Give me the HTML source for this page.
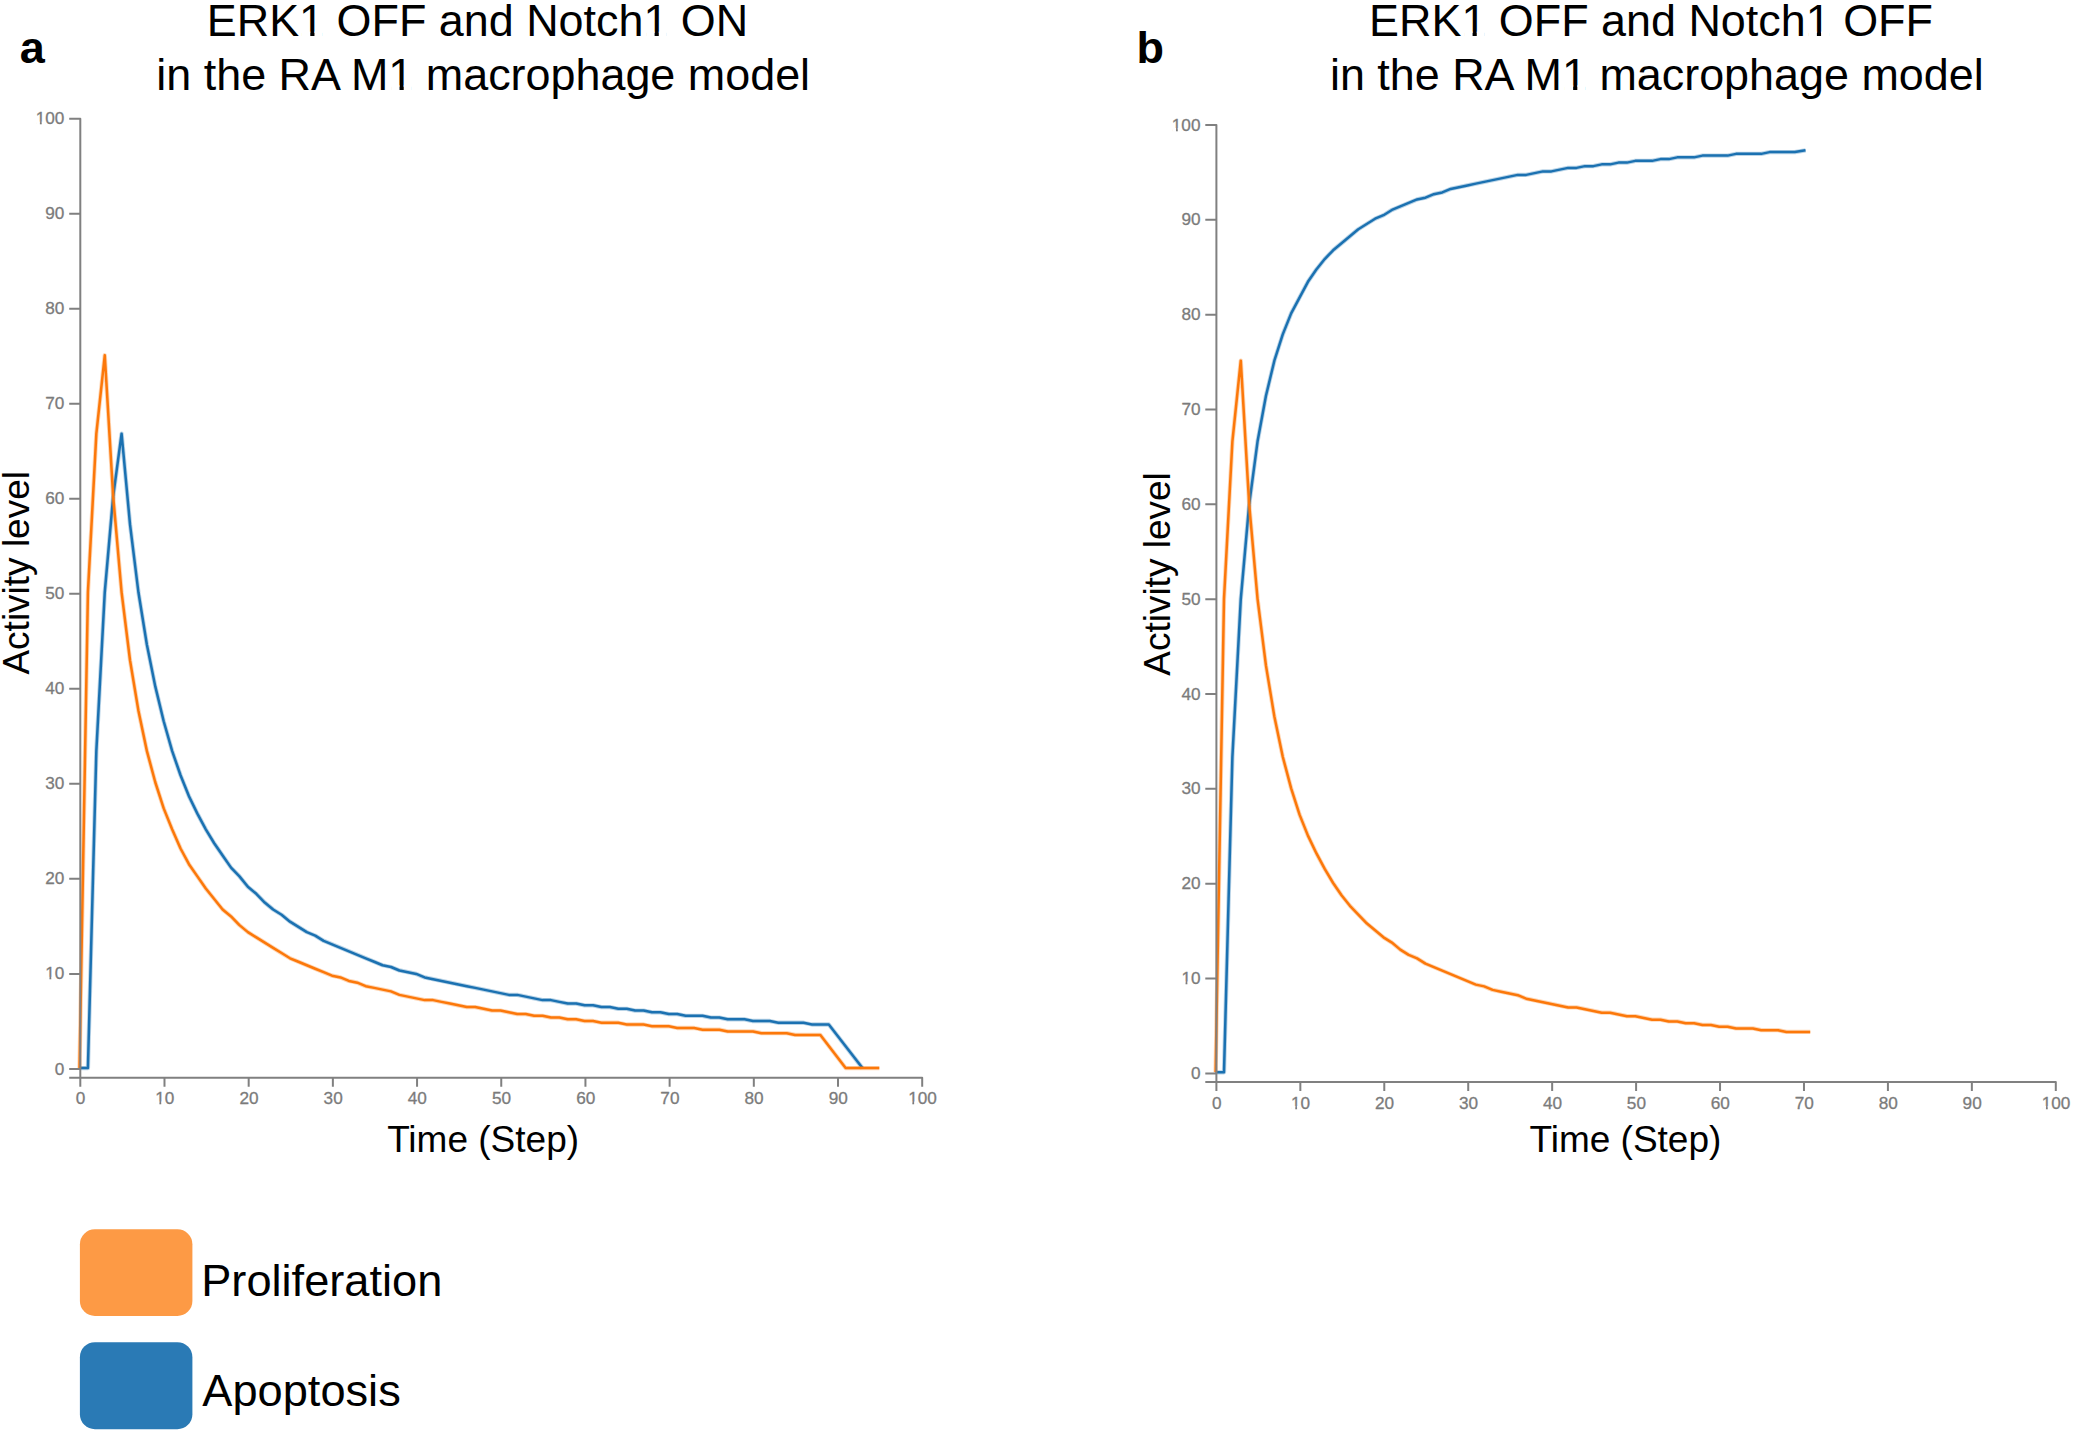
<!DOCTYPE html>
<html><head><meta charset="utf-8"><style>
html,body{margin:0;padding:0;background:#fff;}
body{width:2075px;height:1433px;overflow:hidden;}
svg{display:block;}
text{font-family:"Liberation Sans",Arial,sans-serif;}
.t{font-size:44.9px;fill:#000;}
.lab{font-size:45px;font-weight:bold;fill:#000;}
.axl{font-size:37.0px;fill:#000;}
.tk{font-size:17.2px;fill:#7b7b7b;stroke:#7b7b7b;stroke-width:0.3px;}
.leg{font-size:45.2px;fill:#000;}
.ax path{fill:none;stroke:#808080;stroke-width:2;stroke-linejoin:round;}
.ln{fill:none;stroke-width:2.5;stroke-linejoin:round;stroke-linecap:butt;}
.hl{fill:none;stroke-width:4.3;stroke-opacity:0.3;stroke-linejoin:round;stroke-linecap:butt;}
</style></head><body>
<svg width="2075" height="1433" viewBox="0 0 2075 1433">
<rect width="2075" height="1433" fill="#fff"/>
<text class="lab" x="19.8" y="63.4">a</text>
<text class="lab" x="1136.6" y="63.3">b</text>
<text class="t" x="477.5" y="36.3" text-anchor="middle">ERK1 OFF and Notch1 ON</text>
<text class="t" x="483.2" y="90" text-anchor="middle">in the RA M1 macrophage model</text>
<text class="t" x="1651" y="36.3" text-anchor="middle">ERK1 OFF and Notch1 OFF</text>
<text class="t" x="1656.8" y="90" text-anchor="middle">in the RA M1 macrophage model</text>

<g>
<path class="hl" stroke="#1b71b1" d="M79.50,1068.07L87.92,1068.07L96.34,750.88L104.76,592.29L113.18,496.43L121.59,433.69L130.01,524.32L138.43,592.29L146.85,644.57L155.27,686.40L163.69,721.26L172.11,750.88L180.53,775.28L188.95,796.20L197.37,813.62L205.79,829.31L214.20,843.25L222.62,855.45L231.04,867.65L239.46,876.36L247.88,886.82L256.30,893.79L264.72,902.51L273.14,909.48L281.56,914.71L289.98,921.68L298.39,926.91L306.81,932.13L315.23,935.62L323.65,940.85L332.07,944.33L340.49,947.82L348.91,951.31L357.33,954.79L365.75,958.28L374.17,961.76L382.58,965.25L391.00,966.99L399.42,970.48L407.84,972.22L416.26,973.96L424.68,977.45L433.10,979.19L441.52,980.93L449.94,982.68L458.36,984.42L466.77,986.16L475.19,987.90L483.61,989.65L492.03,991.39L500.45,993.13L508.87,994.88L517.29,994.88L525.71,996.62L534.13,998.36L542.55,1000.10L550.96,1000.10L559.38,1001.85L567.80,1003.59L576.22,1003.59L584.64,1005.33L593.06,1005.33L601.48,1007.07L609.90,1007.07L618.32,1008.82L626.74,1008.82L635.15,1010.56L643.57,1010.56L651.99,1012.30L660.41,1012.30L668.83,1014.05L677.25,1014.05L685.67,1015.79L694.09,1015.79L702.51,1015.79L710.93,1017.53L719.34,1017.53L727.76,1019.27L736.18,1019.27L744.60,1019.27L753.02,1021.02L761.44,1021.02L769.86,1021.02L778.28,1022.76L786.70,1022.76L795.12,1022.76L803.53,1022.76L811.95,1024.50L820.37,1024.50L828.79,1024.50L862.47,1068.07"/>
<path class="ln" stroke="#1b71b1" d="M79.50,1068.07L87.92,1068.07L96.34,750.88L104.76,592.29L113.18,496.43L121.59,433.69L130.01,524.32L138.43,592.29L146.85,644.57L155.27,686.40L163.69,721.26L172.11,750.88L180.53,775.28L188.95,796.20L197.37,813.62L205.79,829.31L214.20,843.25L222.62,855.45L231.04,867.65L239.46,876.36L247.88,886.82L256.30,893.79L264.72,902.51L273.14,909.48L281.56,914.71L289.98,921.68L298.39,926.91L306.81,932.13L315.23,935.62L323.65,940.85L332.07,944.33L340.49,947.82L348.91,951.31L357.33,954.79L365.75,958.28L374.17,961.76L382.58,965.25L391.00,966.99L399.42,970.48L407.84,972.22L416.26,973.96L424.68,977.45L433.10,979.19L441.52,980.93L449.94,982.68L458.36,984.42L466.77,986.16L475.19,987.90L483.61,989.65L492.03,991.39L500.45,993.13L508.87,994.88L517.29,994.88L525.71,996.62L534.13,998.36L542.55,1000.10L550.96,1000.10L559.38,1001.85L567.80,1003.59L576.22,1003.59L584.64,1005.33L593.06,1005.33L601.48,1007.07L609.90,1007.07L618.32,1008.82L626.74,1008.82L635.15,1010.56L643.57,1010.56L651.99,1012.30L660.41,1012.30L668.83,1014.05L677.25,1014.05L685.67,1015.79L694.09,1015.79L702.51,1015.79L710.93,1017.53L719.34,1017.53L727.76,1019.27L736.18,1019.27L744.60,1019.27L753.02,1021.02L761.44,1021.02L769.86,1021.02L778.28,1022.76L786.70,1022.76L795.12,1022.76L803.53,1022.76L811.95,1024.50L820.37,1024.50L828.79,1024.50L862.47,1068.07"/>
<path class="hl" stroke="#fc780a" d="M79.50,1068.07L87.92,592.29L96.34,433.69L104.76,355.27L113.18,496.43L121.59,592.29L130.01,660.26L138.43,710.80L146.85,750.88L155.27,782.25L163.69,808.40L172.11,829.31L180.53,848.48L188.95,864.17L197.37,876.36L205.79,888.56L214.20,899.02L222.62,909.48L231.04,916.45L239.46,925.16L247.88,932.13L256.30,937.36L264.72,942.59L273.14,947.82L281.56,953.05L289.98,958.28L298.39,961.76L306.81,965.25L315.23,968.73L323.65,972.22L332.07,975.70L340.49,977.45L348.91,980.93L357.33,982.68L365.75,986.16L374.17,987.90L382.58,989.65L391.00,991.39L399.42,994.88L407.84,996.62L416.26,998.36L424.68,1000.10L433.10,1000.10L441.52,1001.85L449.94,1003.59L458.36,1005.33L466.77,1007.07L475.19,1007.07L483.61,1008.82L492.03,1010.56L500.45,1010.56L508.87,1012.30L517.29,1014.05L525.71,1014.05L534.13,1015.79L542.55,1015.79L550.96,1017.53L559.38,1017.53L567.80,1019.27L576.22,1019.27L584.64,1021.02L593.06,1021.02L601.48,1022.76L609.90,1022.76L618.32,1022.76L626.74,1024.50L635.15,1024.50L643.57,1024.50L651.99,1026.25L660.41,1026.25L668.83,1026.25L677.25,1027.99L685.67,1027.99L694.09,1027.99L702.51,1029.73L710.93,1029.73L719.34,1029.73L727.76,1031.47L736.18,1031.47L744.60,1031.47L753.02,1031.47L761.44,1033.22L769.86,1033.22L778.28,1033.22L786.70,1033.22L795.12,1034.96L803.53,1034.96L811.95,1034.96L820.37,1034.96L845.63,1068.07L879.31,1068.07"/>
<path class="ln" stroke="#fc780a" d="M79.50,1068.07L87.92,592.29L96.34,433.69L104.76,355.27L113.18,496.43L121.59,592.29L130.01,660.26L138.43,710.80L146.85,750.88L155.27,782.25L163.69,808.40L172.11,829.31L180.53,848.48L188.95,864.17L197.37,876.36L205.79,888.56L214.20,899.02L222.62,909.48L231.04,916.45L239.46,925.16L247.88,932.13L256.30,937.36L264.72,942.59L273.14,947.82L281.56,953.05L289.98,958.28L298.39,961.76L306.81,965.25L315.23,968.73L323.65,972.22L332.07,975.70L340.49,977.45L348.91,980.93L357.33,982.68L365.75,986.16L374.17,987.90L382.58,989.65L391.00,991.39L399.42,994.88L407.84,996.62L416.26,998.36L424.68,1000.10L433.10,1000.10L441.52,1001.85L449.94,1003.59L458.36,1005.33L466.77,1007.07L475.19,1007.07L483.61,1008.82L492.03,1010.56L500.45,1010.56L508.87,1012.30L517.29,1014.05L525.71,1014.05L534.13,1015.79L542.55,1015.79L550.96,1017.53L559.38,1017.53L567.80,1019.27L576.22,1019.27L584.64,1021.02L593.06,1021.02L601.48,1022.76L609.90,1022.76L618.32,1022.76L626.74,1024.50L635.15,1024.50L643.57,1024.50L651.99,1026.25L660.41,1026.25L668.83,1026.25L677.25,1027.99L685.67,1027.99L694.09,1027.99L702.51,1029.73L710.93,1029.73L719.34,1029.73L727.76,1031.47L736.18,1031.47L744.60,1031.47L753.02,1031.47L761.44,1033.22L769.86,1033.22L778.28,1033.22L786.70,1033.22L795.12,1034.96L803.53,1034.96L811.95,1034.96L820.37,1034.96L845.63,1068.07L879.31,1068.07"/>
<path class="hl" stroke="#1b71b1" d="M1215.60,1072.28L1223.99,1072.28L1232.39,756.79L1240.78,599.05L1249.18,504.40L1257.57,441.30L1265.96,395.73L1274.36,360.68L1282.75,334.39L1291.15,313.35L1299.54,297.58L1307.93,281.80L1316.33,269.54L1324.72,259.02L1333.12,250.26L1341.51,243.24L1349.90,236.23L1358.30,229.22L1366.69,223.96L1375.09,218.71L1383.48,215.20L1391.87,209.94L1400.27,206.44L1408.66,202.93L1417.06,199.43L1425.45,197.67L1433.84,194.17L1442.24,192.42L1450.63,188.91L1459.03,187.16L1467.42,185.41L1475.81,183.65L1484.21,181.90L1492.60,180.15L1501.00,178.39L1509.39,176.64L1517.78,174.89L1526.18,174.89L1534.57,173.14L1542.97,171.38L1551.36,171.38L1559.75,169.63L1568.15,167.88L1576.54,167.88L1584.94,166.13L1593.33,166.13L1601.72,164.37L1610.12,164.37L1618.51,162.62L1626.91,162.62L1635.30,160.87L1643.69,160.87L1652.09,160.87L1660.48,159.11L1668.88,159.11L1677.27,157.36L1685.66,157.36L1694.06,157.36L1702.45,155.61L1710.85,155.61L1719.24,155.61L1727.63,155.61L1736.03,153.86L1744.42,153.86L1752.82,153.86L1761.21,153.86L1769.60,152.10L1778.00,152.10L1786.39,152.10L1794.79,152.10L1805.53,150.35"/>
<path class="ln" stroke="#1b71b1" d="M1215.60,1072.28L1223.99,1072.28L1232.39,756.79L1240.78,599.05L1249.18,504.40L1257.57,441.30L1265.96,395.73L1274.36,360.68L1282.75,334.39L1291.15,313.35L1299.54,297.58L1307.93,281.80L1316.33,269.54L1324.72,259.02L1333.12,250.26L1341.51,243.24L1349.90,236.23L1358.30,229.22L1366.69,223.96L1375.09,218.71L1383.48,215.20L1391.87,209.94L1400.27,206.44L1408.66,202.93L1417.06,199.43L1425.45,197.67L1433.84,194.17L1442.24,192.42L1450.63,188.91L1459.03,187.16L1467.42,185.41L1475.81,183.65L1484.21,181.90L1492.60,180.15L1501.00,178.39L1509.39,176.64L1517.78,174.89L1526.18,174.89L1534.57,173.14L1542.97,171.38L1551.36,171.38L1559.75,169.63L1568.15,167.88L1576.54,167.88L1584.94,166.13L1593.33,166.13L1601.72,164.37L1610.12,164.37L1618.51,162.62L1626.91,162.62L1635.30,160.87L1643.69,160.87L1652.09,160.87L1660.48,159.11L1668.88,159.11L1677.27,157.36L1685.66,157.36L1694.06,157.36L1702.45,155.61L1710.85,155.61L1719.24,155.61L1727.63,155.61L1736.03,153.86L1744.42,153.86L1752.82,153.86L1761.21,153.86L1769.60,152.10L1778.00,152.10L1786.39,152.10L1794.79,152.10L1805.53,150.35"/>
<path class="hl" stroke="#fc780a" d="M1215.60,1072.28L1223.99,599.05L1232.39,441.30L1240.78,360.68L1249.18,504.40L1257.57,599.05L1265.96,665.65L1274.36,716.48L1282.75,756.79L1291.15,788.34L1299.54,814.63L1307.93,835.66L1316.33,853.19L1324.72,868.96L1333.12,882.99L1341.51,895.26L1349.90,905.77L1358.30,914.54L1366.69,923.30L1375.09,930.31L1383.48,937.32L1391.87,942.58L1400.27,949.59L1408.66,954.85L1417.06,958.35L1425.45,963.61L1433.84,967.12L1442.24,970.62L1450.63,974.13L1459.03,977.63L1467.42,981.14L1475.81,984.64L1484.21,986.40L1492.60,989.90L1501.00,991.66L1509.39,993.41L1517.78,995.16L1526.18,998.67L1534.57,1000.42L1542.97,1002.17L1551.36,1003.92L1559.75,1005.68L1568.15,1007.43L1576.54,1007.43L1584.94,1009.18L1593.33,1010.93L1601.72,1012.69L1610.12,1012.69L1618.51,1014.44L1626.91,1016.19L1635.30,1016.19L1643.69,1017.95L1652.09,1019.70L1660.48,1019.70L1668.88,1021.45L1677.27,1021.45L1685.66,1023.20L1694.06,1023.20L1702.45,1024.96L1710.85,1024.96L1719.24,1026.71L1727.63,1026.71L1736.03,1028.46L1744.42,1028.46L1752.82,1028.46L1761.21,1030.21L1769.60,1030.21L1778.00,1030.21L1786.39,1031.97L1794.79,1031.97L1803.18,1031.97L1810.23,1031.97"/>
<path class="ln" stroke="#fc780a" d="M1215.60,1072.28L1223.99,599.05L1232.39,441.30L1240.78,360.68L1249.18,504.40L1257.57,599.05L1265.96,665.65L1274.36,716.48L1282.75,756.79L1291.15,788.34L1299.54,814.63L1307.93,835.66L1316.33,853.19L1324.72,868.96L1333.12,882.99L1341.51,895.26L1349.90,905.77L1358.30,914.54L1366.69,923.30L1375.09,930.31L1383.48,937.32L1391.87,942.58L1400.27,949.59L1408.66,954.85L1417.06,958.35L1425.45,963.61L1433.84,967.12L1442.24,970.62L1450.63,974.13L1459.03,977.63L1467.42,981.14L1475.81,984.64L1484.21,986.40L1492.60,989.90L1501.00,991.66L1509.39,993.41L1517.78,995.16L1526.18,998.67L1534.57,1000.42L1542.97,1002.17L1551.36,1003.92L1559.75,1005.68L1568.15,1007.43L1576.54,1007.43L1584.94,1009.18L1593.33,1010.93L1601.72,1012.69L1610.12,1012.69L1618.51,1014.44L1626.91,1016.19L1635.30,1016.19L1643.69,1017.95L1652.09,1019.70L1660.48,1019.70L1668.88,1021.45L1677.27,1021.45L1685.66,1023.20L1694.06,1023.20L1702.45,1024.96L1710.85,1024.96L1719.24,1026.71L1727.63,1026.71L1736.03,1028.46L1744.42,1028.46L1752.82,1028.46L1761.21,1030.21L1769.60,1030.21L1778.00,1030.21L1786.39,1031.97L1794.79,1031.97L1803.18,1031.97L1810.23,1031.97"/>
</g>

<g class="ax">
<path d="M69.20,118.65H80.30V1077.70H69.20" />
<path d="M80.30,1086.80V1077.70H922.20V1086.80" />
<path d="M69.20,1068.90H80.30M69.20,973.88H80.30M164.49,1077.70V1086.80M69.20,878.85H80.30M248.68,1077.70V1086.80M69.20,783.83H80.30M332.87,1077.70V1086.80M69.20,688.80H80.30M417.06,1077.70V1086.80M69.20,593.78H80.30M501.25,1077.70V1086.80M69.20,498.75H80.30M585.44,1077.70V1086.80M69.20,403.73H80.30M669.63,1077.70V1086.80M69.20,308.70H80.30M753.82,1077.70V1086.80M69.20,213.67H80.30M838.01,1077.70V1086.80" />
<path d="M1205.30,124.96H1216.40V1082.05H1205.30" />
<path d="M1216.40,1091.00V1082.05H2055.80V1091.00" />
<path d="M1205.30,1073.40H1216.40M1205.30,978.56H1216.40M1300.34,1082.05V1091.00M1205.30,883.71H1216.40M1384.28,1082.05V1091.00M1205.30,788.87H1216.40M1468.22,1082.05V1091.00M1205.30,694.02H1216.40M1552.16,1082.05V1091.00M1205.30,599.18H1216.40M1636.10,1082.05V1091.00M1205.30,504.34H1216.40M1720.04,1082.05V1091.00M1205.30,409.49H1216.40M1803.98,1082.05V1091.00M1205.30,314.65H1216.40M1887.92,1082.05V1091.00M1205.30,219.80H1216.40M1971.86,1082.05V1091.00" />
</g>
<g class="tk">
<text x="64.40" y="1074.50" text-anchor="end">0</text>
<text x="80.60" y="1104.20" text-anchor="middle">0</text>
<text x="64.40" y="979.48" text-anchor="end">10</text>
<text x="164.79" y="1104.20" text-anchor="middle">10</text>
<text x="64.40" y="884.45" text-anchor="end">20</text>
<text x="248.98" y="1104.20" text-anchor="middle">20</text>
<text x="64.40" y="789.43" text-anchor="end">30</text>
<text x="333.17" y="1104.20" text-anchor="middle">30</text>
<text x="64.40" y="694.40" text-anchor="end">40</text>
<text x="417.36" y="1104.20" text-anchor="middle">40</text>
<text x="64.40" y="599.38" text-anchor="end">50</text>
<text x="501.55" y="1104.20" text-anchor="middle">50</text>
<text x="64.40" y="504.35" text-anchor="end">60</text>
<text x="585.74" y="1104.20" text-anchor="middle">60</text>
<text x="64.40" y="409.33" text-anchor="end">70</text>
<text x="669.93" y="1104.20" text-anchor="middle">70</text>
<text x="64.40" y="314.30" text-anchor="end">80</text>
<text x="754.12" y="1104.20" text-anchor="middle">80</text>
<text x="64.40" y="219.27" text-anchor="end">90</text>
<text x="838.31" y="1104.20" text-anchor="middle">90</text>
<text x="64.40" y="124.25" text-anchor="end">100</text>
<text x="922.50" y="1104.20" text-anchor="middle">100</text>
<text x="1200.50" y="1079.00" text-anchor="end">0</text>
<text x="1216.70" y="1108.55" text-anchor="middle">0</text>
<text x="1200.50" y="984.16" text-anchor="end">10</text>
<text x="1300.64" y="1108.55" text-anchor="middle">10</text>
<text x="1200.50" y="889.31" text-anchor="end">20</text>
<text x="1384.58" y="1108.55" text-anchor="middle">20</text>
<text x="1200.50" y="794.47" text-anchor="end">30</text>
<text x="1468.52" y="1108.55" text-anchor="middle">30</text>
<text x="1200.50" y="699.62" text-anchor="end">40</text>
<text x="1552.46" y="1108.55" text-anchor="middle">40</text>
<text x="1200.50" y="604.78" text-anchor="end">50</text>
<text x="1636.40" y="1108.55" text-anchor="middle">50</text>
<text x="1200.50" y="509.94" text-anchor="end">60</text>
<text x="1720.34" y="1108.55" text-anchor="middle">60</text>
<text x="1200.50" y="415.09" text-anchor="end">70</text>
<text x="1804.28" y="1108.55" text-anchor="middle">70</text>
<text x="1200.50" y="320.25" text-anchor="end">80</text>
<text x="1888.22" y="1108.55" text-anchor="middle">80</text>
<text x="1200.50" y="225.40" text-anchor="end">90</text>
<text x="1972.16" y="1108.55" text-anchor="middle">90</text>
<text x="1200.50" y="130.56" text-anchor="end">100</text>
<text x="2056.10" y="1108.55" text-anchor="middle">100</text>
</g>
<text class="axl" x="483.1" y="1152.3" text-anchor="middle">Time (Step)</text>
<text class="axl" x="1625.4" y="1152.3" text-anchor="middle">Time (Step)</text>
<text class="axl" transform="translate(28.9,572.8) rotate(-90)" text-anchor="middle">Activity level</text>
<text class="axl" transform="translate(1170.1,574.0) rotate(-90)" text-anchor="middle">Activity level</text>

<rect x="79.9" y="1229.3" width="112.5" height="86.7" rx="15" ry="15" fill="#fd9a45"/>
<rect x="79.9" y="1342.2" width="112.5" height="87" rx="15" ry="15" fill="#2a7ab5"/>
<text class="leg" x="201.2" y="1295.8">Proliferation</text>
<text class="leg" x="202.3" y="1406.1">Apoptosis</text>
<g fill="#fff">
<rect x="301.82" y="31.65" width="8.47" height="5.45"/>
<rect x="314.46" y="31.65" width="8.12" height="5.45"/>
<rect x="646.13" y="31.65" width="8.47" height="5.45"/>
<rect x="658.77" y="31.65" width="8.12" height="5.45"/>
<rect x="391.07" y="85.35" width="8.47" height="5.45"/>
<rect x="403.71" y="85.35" width="8.12" height="5.45"/>
<rect x="1464.11" y="31.65" width="8.47" height="5.45"/>
<rect x="1476.75" y="31.65" width="8.12" height="5.45"/>
<rect x="1808.42" y="31.65" width="8.47" height="5.45"/>
<rect x="1821.06" y="31.65" width="8.12" height="5.45"/>
<rect x="1564.67" y="85.35" width="8.47" height="5.45"/>
<rect x="1577.31" y="85.35" width="8.12" height="5.45"/>
<rect x="45.69" y="976.90" width="3.77" height="3.98"/>
<rect x="51.27" y="976.90" width="3.63" height="3.98"/>
<rect x="155.64" y="1101.61" width="3.77" height="3.98"/>
<rect x="161.22" y="1101.61" width="3.63" height="3.98"/>
<rect x="36.12" y="121.67" width="3.77" height="3.98"/>
<rect x="41.71" y="121.67" width="3.63" height="3.98"/>
<rect x="908.57" y="1101.61" width="3.77" height="3.98"/>
<rect x="914.15" y="1101.61" width="3.63" height="3.98"/>
<rect x="1181.79" y="981.58" width="3.77" height="3.98"/>
<rect x="1187.37" y="981.58" width="3.63" height="3.98"/>
<rect x="1291.49" y="1105.97" width="3.77" height="3.98"/>
<rect x="1297.07" y="1105.97" width="3.63" height="3.98"/>
<rect x="1172.22" y="127.98" width="3.77" height="3.98"/>
<rect x="1177.81" y="127.98" width="3.63" height="3.98"/>
<rect x="2042.17" y="1105.97" width="3.77" height="3.98"/>
<rect x="2047.75" y="1105.97" width="3.63" height="3.98"/>
</g>
</svg>
</body></html>
